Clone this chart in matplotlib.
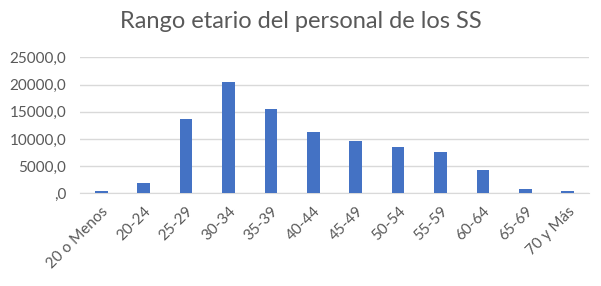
import matplotlib.pyplot as plt
import numpy as np

plt.rcParams['font.family'] = ['Lato', 'DejaVu Sans']

categorias = ['20 o Menos', '20-24', '25-29', '30-34', '35-39', '40-44', '45-49',
              '50-54', '55-59', '60-64', '65-69', '70 y Más']
personal = [420, 1900, 13650, 20460, 15500, 11270, 9610, 8510, 7590, 4280, 800, 420]

fig = plt.figure(figsize=(6.01, 2.86), dpi=100)
ax = fig.add_axes([80 / 601, 1 - 193.3 / 286, 509 / 601, 136 / 286])

x = np.arange(len(categorias))
ax.bar(x, personal, width=0.3, color='#4472C4', zorder=3)

ax.set_xlim(-0.5, len(categorias) - 0.5)
ax.set_ylim(0, 25000)
ax.set_yticks(np.arange(0, 25001, 5000))


def fmt(v, pos):
    if v == 0:
        return ',0'
    return f'{v:.1f}'.replace('.', ',')


ax.yaxis.set_major_formatter(plt.FuncFormatter(fmt))
ax.set_xticks(x)
ax.set_xticklabels(categorias, rotation=45, ha='right', rotation_mode='anchor')

ax.grid(axis='y', color='#D9D9D9', linewidth=1, zorder=0)
for s in ['top', 'right', 'left']:
    ax.spines[s].set_visible(False)
ax.spines['bottom'].set_color('#D9D9D9')
ax.tick_params(length=0, labelsize=11, colors='#595959')
ax.tick_params(axis='y', pad=10)
ax.tick_params(axis='x', pad=8)

fig.text(0.5, 0.925, 'Rango etario del personal de los SS', ha='center', va='center',
         fontsize=17, color='#595959')

fig.savefig('out.png', dpi=100)
